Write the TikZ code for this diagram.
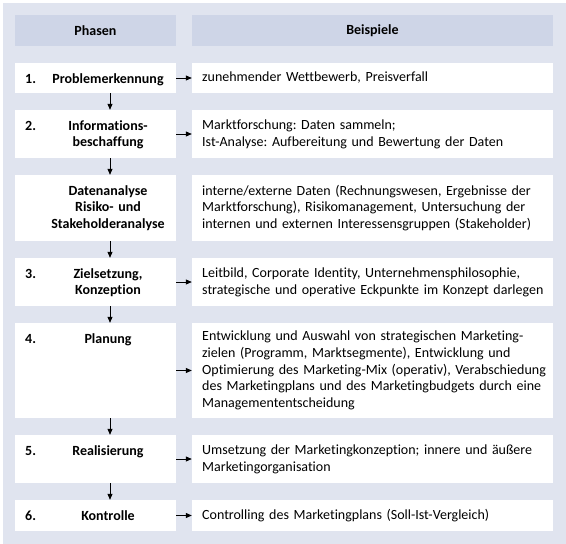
\documentclass[tikz,border=0pt]{standalone}
\usepackage{fontspec}
\setmainfont{Carlito}[Ligatures=NoCommon]
\usetikzlibrary{arrows.meta}

\definecolor{bgblue}{RGB}{224,228,239}
\definecolor{headblue}{RGB}{206,213,231}

\tikzset{
  phasebox/.style={fill=white, inner sep=0pt, minimum width=161pt},
  examplebox/.style={fill=white, inner sep=0pt, minimum width=361pt},
  headbox/.style={fill=headblue, inner sep=0pt, minimum height=31pt},
  phasetext/.style={font=\fontsize{14}{16.7}\selectfont\bfseries, inner sep=0pt,
    text width=140pt, align=center, anchor=base},
  numtext/.style={font=\fontsize{14}{16.7}\selectfont\bfseries, inner sep=0pt, anchor=base west},
  exampletext/.style={font=\fontsize{14}{16.7}\selectfont\frenchspacing, inner sep=0pt,
    text width=350pt, align=left, anchor=west},
  flowarrow/.style={line width=0.8pt, -{Triangle[length=6pt,width=5pt]}}
}

\begin{document}
\begin{tikzpicture}[x=1pt, y=-1pt]
  \useasboundingbox (0,0) rectangle (566,544);

  % Background
  \fill[bgblue] (3,3) rectangle (566,544);

  % Headers
  \node[headbox, phasebox, fill=headblue] (hphase) at (95.5,30.5) {};
  \node[headbox, examplebox, fill=headblue] (hexample) at (372.5,30.5) {};
  \node[font=\fontsize{14}{16.7}\selectfont\bfseries] (thphase) at (hphase) {Phasen};
  \node[font=\fontsize{14}{16.7}\selectfont\bfseries] (thexample) at (hexample) {Beispiele};

  % Phase 1
  \node[phasebox, minimum height=30pt] (p1) at (95.5,78) {};
  \node[examplebox, minimum height=30pt] (b1) at (372.5,78) {};
  \node[numtext] (n1) at (25,83) {1.};
  \node[phasetext] (t1) at (108,83) {Problemerkennung};
  \node[exampletext] (e1) at (202,78) {zunehmender Wettbewerb, Preisverfall};

  % Phase 2
  \node[phasebox, minimum height=48pt] (p2) at (95.5,134) {};
  \node[examplebox, minimum height=48pt] (b2) at (372.5,134) {};
  \node[numtext] (n2) at (25,130) {2.};
  \node[phasetext] (t2) at (108,130) {Informations-\\beschaffung};
  \node[exampletext] (e2) at (202,134) {Marktforschung: Daten sammeln;\\Ist-Analyse: Aufbereitung und Bewertung der Daten};

  % Datenanalyse (no number)
  \node[phasebox, minimum height=66pt] (p3) at (95.5,208) {};
  \node[examplebox, minimum height=66pt] (b3) at (372.5,208) {};
  \node[phasetext] (t3) at (108,195) {Datenanalyse\\Risiko- und\\Stakeholderanalyse};
  \node[exampletext] (e3) at (202,208) {interne/externe Daten (Rechnungswesen, Ergebnisse der\\Marktforschung), Risikomanagement, Untersuchung der\\internen und externen Interessensgruppen (Stakeholder)};

  % Phase 3
  \node[phasebox, minimum height=48pt] (p4) at (95.5,282) {};
  \node[examplebox, minimum height=48pt] (b4) at (372.5,282) {};
  \node[numtext] (n4) at (25,278) {3.};
  \node[phasetext] (t4) at (108,278) {Zielsetzung,\\Konzeption};
  \node[exampletext] (e4) at (202,282) {Leitbild, Corporate Identity, Unternehmensphilosophie,\\strategische und operative Eckpunkte im Konzept darlegen};

  % Phase 4
  \node[phasebox, minimum height=95pt] (p5) at (95.5,370.5) {};
  \node[examplebox, minimum height=95pt] (b5) at (372.5,370.5) {};
  \node[numtext] (n5) at (25,343) {4.};
  \node[phasetext] (t5) at (108,343) {Planung};
  \node[exampletext] (e5) at (202,370.5) {Entwicklung und Auswahl von strategischen Marketing-\\zielen (Programm, Marktsegmente), Entwicklung und\\Optimierung des Marketing-Mix (operativ), Verabschiedung\\des Marketingplans und des Marketingbudgets durch eine\\Managemententscheidung};

  % Phase 5
  \node[phasebox, minimum height=48pt] (p6) at (95.5,459) {};
  \node[examplebox, minimum height=48pt] (b6) at (372.5,459) {};
  \node[numtext] (n6) at (25,455) {5.};
  \node[phasetext] (t6) at (108,455) {Realisierung};
  \node[exampletext] (e6) at (202,459) {Umsetzung der Marketingkonzeption; innere und äußere\\Marketingorganisation};

  % Phase 6
  \node[phasebox, minimum height=31pt] (p7) at (95.5,515.5) {};
  \node[examplebox, minimum height=31pt] (b7) at (372.5,515.5) {};
  \node[numtext] (n7) at (25,520.5) {6.};
  \node[phasetext] (t7) at (108,520.5) {Kontrolle};
  \node[exampletext] (e7) at (202,515.5) {Controlling des Marketingplans (Soll-Ist-Vergleich)};

  % Arrows down the phases
  \coordinate (ax) at (110,0);
  \draw[flowarrow] (p1.south -| ax) -- (p2.north -| ax);
  \draw[flowarrow] (p2.south -| ax) -- (p3.north -| ax);
  \draw[flowarrow] (p3.south -| ax) -- (p4.north -| ax);
  \draw[flowarrow] (p4.south -| ax) -- (p5.north -| ax);
  \draw[flowarrow] (p5.south -| ax) -- (p6.north -| ax);
  \draw[flowarrow] (p6.south -| ax) -- (p7.north -| ax);

  % Arrows to the examples
  \draw[flowarrow] (p1.east) -- (b1.west);
  \draw[flowarrow] (p2.east) -- (b2.west);
  \draw[flowarrow] (p4.east) -- (b4.west);
  \draw[flowarrow] (p5.east) -- (b5.west);
  \draw[flowarrow] (p6.east) -- (b6.west);
  \draw[flowarrow] (p7.east) -- (b7.west);
\end{tikzpicture}
\end{document}
